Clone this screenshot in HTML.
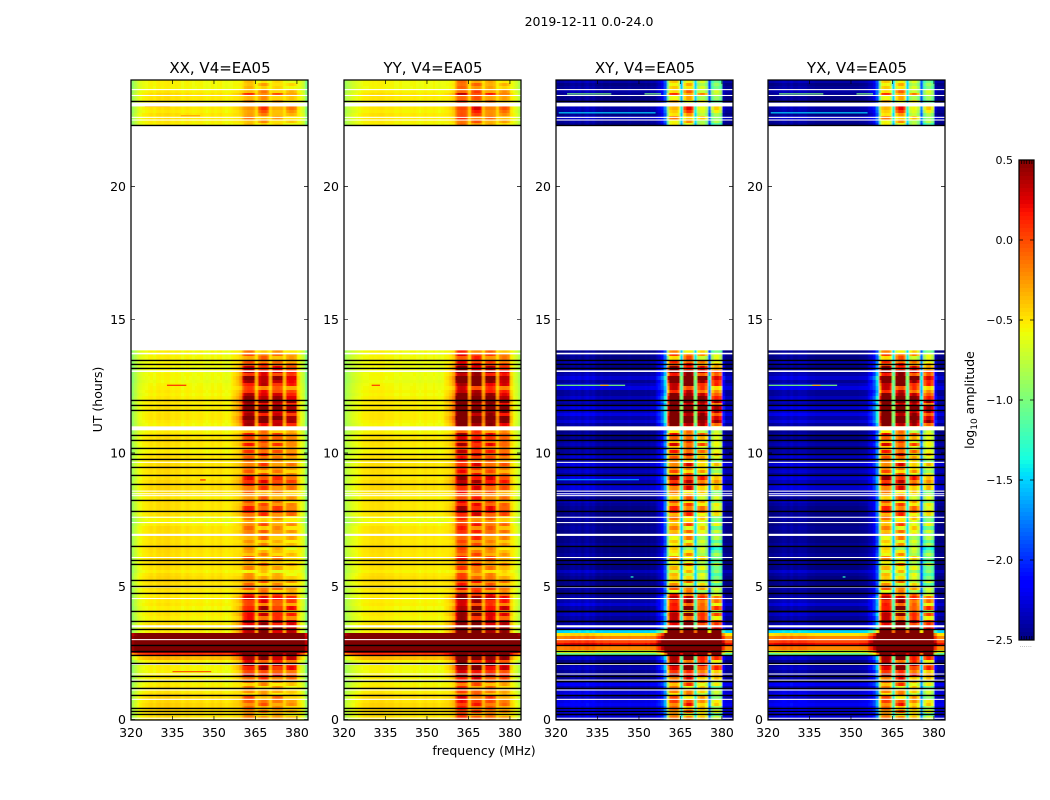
<!DOCTYPE html>
<html lang="en">
<head>
<meta charset="utf-8">
<title>2019-12-11 0.0-24.0</title>
<style>
html,body{margin:0;padding:0;background:#fff;width:1050px;height:800px;overflow:hidden}
svg{display:block}
text{font-family:"DejaVu Sans","Liberation Sans",sans-serif;fill:#000}
.tick{font-size:12.5px}
.ptitle{font-size:15px;text-anchor:middle}
</style>
</head>
<body>
<svg id="fig" xmlns="http://www.w3.org/2000/svg" width="1050" height="800" viewBox="0 0 1050 800">
  <defs>
    <filter id="soft" x="-2%" y="-2%" width="104%" height="104%"><feGaussianBlur stdDeviation="0.55 0.35"/></filter>
  </defs>
  <text x="589" y="26" font-size="12.5" text-anchor="middle">2019-12-11 0.0-24.0</text>
  <text x="484" y="755" font-size="12.5" text-anchor="middle">frequency (MHz)</text>
  <text transform="translate(102,399.5) rotate(-90)" font-size="12.5" text-anchor="middle">UT (hours)</text>
  <text transform="translate(974,400) rotate(-90)" font-size="12.5" text-anchor="middle">log<tspan font-size="9" dy="3">10</tspan><tspan dy="-3"> amplitude</tspan></text>
  <g id="panels"></g>
  <g id="cbar"></g>
</svg>
<script>
/* ---- data ---- */
const panelTitles = ['XX, V4=EA05','YY, V4=EA05','XY, V4=EA05','YX, V4=EA05'];
const xTicks = [320,335,350,365,380];
const yTicks = [0,5,10,15,20];
const cbarTicks = [0.5,0.0,-0.5,-1.0,-1.5,-2.0,-2.5];
const colorMin = -2.5;
const colorMax = 0.5;
const freqStart = 320;
const freqEnd = 384;
const rowStep = 0.125;
const lowerBlockStart = 0;
const upperBlockStart = 22.25;

/* spectral profiles: log10 amplitude per 1 MHz channel, 320..383 MHz */
const profileXX = [-.88,-.75,-.65,-.6,-.56,-.54,-.52,-.5,-.53,-.49,-.48,-.5,-.48,-.47,-.5,-.51,-.49,-.5,-.54,-.52,-.5,-.52,-.54,-.53,-.52,-.51,-.54,-.56,-.54,-.51,-.54,-.52,-.5,-.54,-.56,-.54,-.54,-.52,-.52,-.5,-.46,-.38,-.34,-.34,-.42,-.52,-.42,-.32,-.32,-.42,-.52,-.46,-.44,-.44,-.46,-.54,-.52,-.48,-.48,-.52,-.56,-.6,-.68,-.98];
const profileYY = [-.82,-.75,-.69,-.65,-.61,-.58,-.55,-.53,-.53,-.51,-.5,-.51,-.5,-.49,-.5,-.52,-.51,-.51,-.54,-.54,-.52,-.54,-.54,-.54,-.53,-.52,-.54,-.56,-.54,-.52,-.54,-.54,-.52,-.54,-.56,-.54,-.54,-.54,-.52,-.48,-.3,-.12,-.08,-.1,-.2,-.45,-.2,-.13,-.13,-.2,-.45,-.32,-.28,-.28,-.34,-.5,-.42,-.36,-.36,-.42,-.54,-.58,-.65,-.78];
const profileXY = [-2.5,-2.5,-2.5,-2.47,-2.48,-2.43,-2.42,-2.45,-2.42,-2.47,-2.43,-2.4,-2.45,-2.42,-2.48,-2.5,-2.47,-2.5,-2.5,-2.48,-2.5,-2.5,-2.5,-2.5,-2.5,-2.5,-2.48,-2.5,-2.5,-2.5,-2.5,-2.5,-2.48,-2.5,-2.46,-2.47,-2.42,-2.36,-2.25,-1.95,-1.1,-.6,-.55,-.55,-.75,-1.55,-.65,-.45,-.45,-.65,-1.5,-.9,-.8,-.8,-1.0,-1.95,-1.2,-1.0,-1.0,-1.15,-2.45,-2.5,-2.5,-2.5];
const profileYX = [-2.5,-2.5,-2.48,-2.47,-2.45,-2.42,-2.43,-2.46,-2.4,-2.45,-2.45,-2.42,-2.43,-2.43,-2.47,-2.48,-2.48,-2.5,-2.5,-2.5,-2.5,-2.5,-2.5,-2.5,-2.5,-2.5,-2.5,-2.5,-2.5,-2.5,-2.5,-2.5,-2.5,-2.48,-2.47,-2.45,-2.4,-2.36,-2.25,-1.95,-1.1,-.6,-.55,-.57,-.75,-1.5,-.65,-.47,-.45,-.67,-1.5,-.9,-.77,-.8,-1.0,-1.9,-1.2,-1.0,-.97,-1.15,-2.45,-2.5,-2.5,-2.5];
/* how strongly each channel follows the band brightening */
const bandWeight = [0,0,0,0,0,0,0,0,0,0,0,0,0,0,0,0,0,0,0,0,0,0,0,0,0,0,0,0,0,0,0,0,0,0,0,0,.1,.15,.25,.4,.9,1,1,1,1,.35,1,1,1,1,.35,1,1,1,1,.35,1,1,1,1,.2,0,0,0];
/* sign with which each channel follows the per-row sub-band contrast */
const tiltWeight = [0,0,0,0,0,0,0,0,0,0,0,0,0,0,0,0,0,0,0,0,0,0,0,0,0,0,0,0,0,0,0,0,0,0,0,0,0,0,0,0,.6,1,1,1,.8,0,-.8,-1,-1,-.8,0,.8,1,1,.8,0,-.4,-.6,-.6,-.4,0,0,0,0];

/* per-row gains (0.125 h rows) */
const bandGainLower = [.1,-.05,.1,.05,.15,.2,.1,-.05,.1,0,.05,.2,.35,.6,.4,.65,.7,.45,.65,.7,.85,.85,.85,.85,.85,.85,.8,.85,.65,.8,.4,.6,.3,.65,.25,.5,.6,.35,.1,.25,.05,.15,.05,-.05,-.1,.05,.1,-.05,.1,.05,0,-.1,.05,0,.1,.1,.2,.05,.25,.05,.1,.3,.45,.35,.25,.1,.2,.05,.1,.25,.35,.45,.4,.2,.1,.15,.25,.1,.2,.3,.35,.2,.35,.2,.3,.35,.15,.35,.7,.85,.9,.6,.8,.9,.65,.9,.8,.7,.5,.3,.65,.8,.85,.55,.75,.6,.4,.3,.2,.3,.1];
const bandGainUpper = [-.05,.05,.05,.1,.2,.25,.15,.05,.05,.25,.1,0,.05,-.05];
const parallelGainLower = [.03,.03,.05,.06,.07,.04,.06,.04,0,.01,-.02,-.05,-.03,-.03,-.05,-.03,-.05,-.02,.15,.6,1.2,1.3,1.3,1.3,1.3,1.2,-.02,.02,.03,-.02,-.03,0,-.02,-.04,0,-.02,0,-.02,0,.02,.03,.05,.05,.03,-.02,.02,.03,.05,.03,.02,.03,.05,.03,.02,.03,.02,.02,.03,-.02,-.07,-.04,.02,0,.02,.02,.03,0,.02,.03,.05,.03,.05,.02,.02,.03,.05,.03,.02,.03,.02,-.03,-.01,.02,.03,.02,0,-.03,.02,-.04,-.02,.01,.01,-.01,.01,-.01,.01,-.01,-.04,-.02,-.04,-.05,-.08,-.06,-.05,-.08,-.07,-.04,-.06,-.04,-.05,-.04];
const parallelGainUpper = [-.03,-.01,.01,.02,-.02,.01,.03,-.01,.01,.03,-.01,-.05,-.04,-.04];
const crossGainLower = [.2,.15,.25,.2,.3,.25,.12,.25,.2,.12,.3,.1,.05,0,.05,.12,.05,0,.15,1.4,1.9,2.3,2.7,2.5,2.3,2.0,1.0,.22,.08,0,.05,.15,0,.05,.2,.1,.05,0,0,.05,0,0,0,.05,.15,0,.05,0,0,.05,0,0,.05,0,0,0,0,.05,0,0,.05,0,0,0,.05,.1,0,.15,.05,.2,.15,.1,.2,.05,.15,.1,.2,.05,.15,.1,.05,0,.1,.05,0,.05,0,0,.05,.2,.1,.25,.15,.2,.05,.1,.15,.05,.05,.25,.15,.05,.2,.1,.05,0,.05,.1,0,.05,0];
const crossGainUpper = [0,.05,.15,0,.05,.1,.05,0,0,.05,.1,.05,0,.1];
const tiltLower = [.05,.15,-.05,.12,-.1,.05,.2,-.08,.03,.18,-.12,.07,-.1,.12,.02,-.14,.1,.18,-.06,.04,0,0,0,0,0,0,-.1,.15,-.12,.08,.18,-.05,.2,-.15,.12,-.1,.02,.16,-.12,.08,.18,-.1,.05,.15,-.08,.1,-.14,.06,.15,-.1,.04,.18,-.06,.1,-.12,.12,-.05,.18,-.1,.06,.16,-.12,.05,.14,-.08,.18,-.1,.04,.15,-.12,.08,-.06,.14,-.1,.18,.02,-.12,.1,.06,-.15,.12,-.06,.16,-.1,.04,.14,-.1,.05,.12,-.08,.06,.15,-.1,.04,.12,-.06,.1,.08,-.05,.14,-.1,.05,.12,-.08,.06,.14,-.05,.1,-.12,.08,.15];
const tiltUpper = [.05,-.08,.12,-.05,-.12,-.15,.05,.12,-.06,.15,-.1,.06,-.05,.08];

/* flagged time ranges (hours) */
const whiteStart = [13.85,13.7,13.04,10.85,9.63,8.55,8.45,8.38,7.57,7.37,6.89,6.06,4.95,4.52,3.46,2.98,2.05,1.69,1.46,1.09,.74,.03,23.61,23.39,23.0,22.57,22.47];
const whiteEnd = [22.3,13.76,13.1,11.0,9.67,8.59,8.49,8.42,7.61,7.41,6.97,6.1,4.99,4.56,3.54,3.02,2.09,1.73,1.5,1.13,.78,.07,23.65,23.43,23.14,22.61,22.51];
const blackHours = [23.2,22.3,13.5,13.32,13.2,11.98,11.81,11.63,10.69,10.48,10.17,9.98,9.79,9.48,9.19,8.82,8.22,7.84,6.53,6.0,5.82,5.22,5.03,4.76,4.09,3.68,3.38,2.79,2.57,2.42,2.14,1.63,1.44,1.17,.92,.42,.33,.21];

/* thin bright streaks: panel index, hour, from MHz, to MHz, value */
const streakPanel = [0,1,0,2,3,2,3,2,3,2,2,3,0,0,0,2,3,2,3];
const streakHour = [12.54,12.54,8.99,12.54,12.54,23.47,23.47,22.76,22.76,9.0,23.47,23.47,1.8,23.0,22.65,5.35,5.35,12.54,12.54];
const streakFrom = [333,330,345,320,320,324,324,321,321,320,352,352,335,325,338,347,347,336,336];
const streakTo = [340,333,347,345,345,340,340,356,356,350,358,358,349,334,345,348,348,339,339];
const streakValue = [.1,.05,.1,-1.0,-1.0,-1.0,-1.0,-1.5,-1.5,-1.7,-1.0,-1.0,-.05,-.35,-.3,-1.3,-1.3,-.3,-.3];

/* ---- layout (pixels) ---- */
const panelLeft = [131,344,556,768];
const panelWidth = 177;
const plotTop = 80;
const plotBottom = 720;
const cbarX = 1019, cbarW = 15, cbarTop = 160, cbarBottom = 640;
const NS = 'http://www.w3.org/2000/svg';

const xScale = (p, f) => panelLeft[p] + (f - freqStart) / (freqEnd - freqStart) * panelWidth;
const yScale = h => 719.6 - h * 26.66;
const cbarScale = v => cbarBottom - (v - colorMin) / (colorMax - colorMin) * (cbarBottom - cbarTop);

function lerpChan(t, pts){
  for (let k = 1; k < pts.length; k++){
    if (t <= pts[k][0]){
      const a = pts[k-1], b = pts[k];
      return a[1] + (b[1]-a[1]) * (t-a[0]) / (b[0]-a[0]);
    }
  }
  return pts[pts.length-1][1];
}
function jet(v){
  const t = Math.max(0, Math.min(1, (v - colorMin) / (colorMax - colorMin)));
  const r = lerpChan(t, [[0,0],[.35,0],[.66,1],[.89,1],[1,.5]]);
  const g = lerpChan(t, [[0,0],[.125,0],[.375,1],[.64,1],[.91,0],[1,0]]);
  const b = lerpChan(t, [[0,.5],[.11,1],[.34,1],[.65,0],[1,0]]);
  return 'rgb(' + Math.round(r*255) + ',' + Math.round(g*255) + ',' + Math.round(b*255) + ')';
}
function mk(tag, attrs, parent){
  const el = document.createElementNS(NS, tag);
  for (const k in attrs) el.setAttribute(k, attrs[k]);
  parent.appendChild(el);
  return el;
}

const profiles = [profileXX, profileYY, profileXY, profileYX];
const panelsG = document.getElementById('panels');

panelTitles.forEach((title, p) => {
  const x0 = panelLeft[p], isCross = p >= 2;
  const g = mk('g', {}, panelsG);
  
  

  const clipId = 'clip' + p;
  const cp = mk('clipPath', {id: clipId}, g);
  mk('rect', {x: x0, y: plotTop, width: panelWidth, height: plotBottom - plotTop}, cp);

  const clipped = mk('g', {'clip-path': 'url(#' + clipId + ')'}, g);
  const cells = mk('g', {filter: 'url(#soft)', 'shape-rendering': 'crispEdges'}, clipped);
  
  

  const drawBlock = (start, bandGain, parGain, crossGain, tilt) => {
    bandGain.forEach((bg, i) => {
      const hour = start + i * rowStep;
      const yA = Math.round(yScale(hour + rowStep));
      const yB = Math.round(yScale(hour));
      profiles[p].forEach((base, c) => {
        const v = isCross
          ? base + crossGain[i] + bandWeight[c] * bg * 1.4 + tiltWeight[c] * tilt[i] * 1.6
          : base + parGain[i] + bandWeight[c] * bg + tiltWeight[c] * tilt[i];
        const xA = Math.round(xScale(p, freqStart + c));
        const xB = Math.round(xScale(p, freqStart + c + 1));
        const cell = mk('rect', {x: xA, y: yA, width: xB - xA, height: yB - yA, fill: jet(v)}, cells);
        
        
      });
    });
  };
  drawBlock(lowerBlockStart, bandGainLower, parallelGainLower, crossGainLower, tiltLower);
  drawBlock(upperBlockStart, bandGainUpper, parallelGainUpper, crossGainUpper, tiltUpper);

  streakPanel.forEach((sp, k) => {
    if (sp !== p) return;
    const s = mk('rect', {x: xScale(p, streakFrom[k]), y: yScale(streakHour[k]) - .6,
      width: xScale(p, streakTo[k]) - xScale(p, streakFrom[k]), height: 1.2, fill: jet(streakValue[k])}, clipped);
    
    
  });

  whiteStart.forEach((hs, k) => {
    const top = yScale(whiteEnd[k]), bot = yScale(hs);
    const w = mk('rect', {x: x0, y: top, width: panelWidth, height: bot - top, fill: '#fff'}, clipped);
    
    
  });
  blackHours.forEach(h => {
    const b = mk('rect', {x: x0, y: Math.round(yScale(h)) - .25, width: panelWidth, height: 1.4, fill: '#000'}, clipped);
    
    
  });

  /* ticks */
  xTicks.forEach(f => {
    const x = xScale(p, f);
    const t1 = mk('path', {d: 'M' + x + ' ' + plotBottom + 'v-4M' + x + ' ' + plotTop + 'v4', stroke: '#000', 'stroke-width': .7, fill: 'none'}, g);
    
    
    const lab = mk('text', {x: x, y: 737, 'text-anchor': 'middle', class: 'tick'}, g);
    
    
    lab.textContent = f;
  });
  yTicks.forEach(h => {
    const y = yScale(h);
    const t2 = mk('path', {d: 'M' + x0 + ' ' + y + 'h4M' + (x0 + panelWidth) + ' ' + y + 'h-4', stroke: '#000', 'stroke-width': .7, fill: 'none'}, g);
    
    
    const lab = mk('text', {x: x0 - 5, y: y + 4.5, 'text-anchor': 'end', class: 'tick'}, g);
    
    
    lab.textContent = h;
  });

  const spine = mk('rect', {x: x0, y: plotTop, width: panelWidth, height: plotBottom - plotTop, fill: 'none', stroke: '#000', 'stroke-width': 1.25}, g);
  
  

  const tt = mk('text', {x: x0 + panelWidth / 2 + .5, y: 73, class: 'ptitle'}, g);
  
  
  tt.textContent = title;
});

/* colorbar */
const cbarG = document.getElementById('cbar');
for (let k = 0; k < 120; k++){
  const v0 = colorMin + (colorMax - colorMin) * k / 120;
  const v1 = colorMin + (colorMax - colorMin) * (k + 1) / 120;
  const top = Math.round(cbarScale(v1)), bot = Math.round(cbarScale(v0));
  const seg = mk('rect', {x: cbarX, y: top, width: cbarW, height: bot - top, fill: jet((v0 + v1) / 2), 'shape-rendering': 'crispEdges'}, cbarG);
  
  
}
cbarTicks.forEach(v => {
  const y = cbarScale(v);
  const t = mk('path', {d: 'M' + cbarX + ' ' + y + 'h4M' + (cbarX + cbarW) + ' ' + y + 'h-4', stroke: '#000', 'stroke-width': .7, fill: 'none'}, cbarG);
  
  
  const lab = mk('text', {x: 1013, y: y + 4, 'text-anchor': 'end', 'font-size': 11}, cbarG);
  
  
  lab.textContent = v.toFixed(1).replace('-', '\u2212');
});
for (let k = 0; k < 5; k++){
  const x = cbarX + 2.5 + k * 2.6;
  const m = mk('path', {d: 'M' + x + ' ' + cbarBottom + 'v-4M' + x + ' ' + cbarTop + 'v4', stroke: '#000', 'stroke-width': .7, fill: 'none'}, cbarG);
  
  
}
const dots = mk('text', {x: 1026, y: 647, 'text-anchor': 'middle', 'font-size': 5, style: 'fill:#555;letter-spacing:.5px'}, cbarG);


dots.textContent = '......';
const frame = mk('rect', {x: cbarX, y: cbarTop, width: cbarW, height: cbarBottom - cbarTop, fill: 'none', stroke: '#000', 'stroke-width': 1.25}, cbarG);


</script>
</body>
</html>
